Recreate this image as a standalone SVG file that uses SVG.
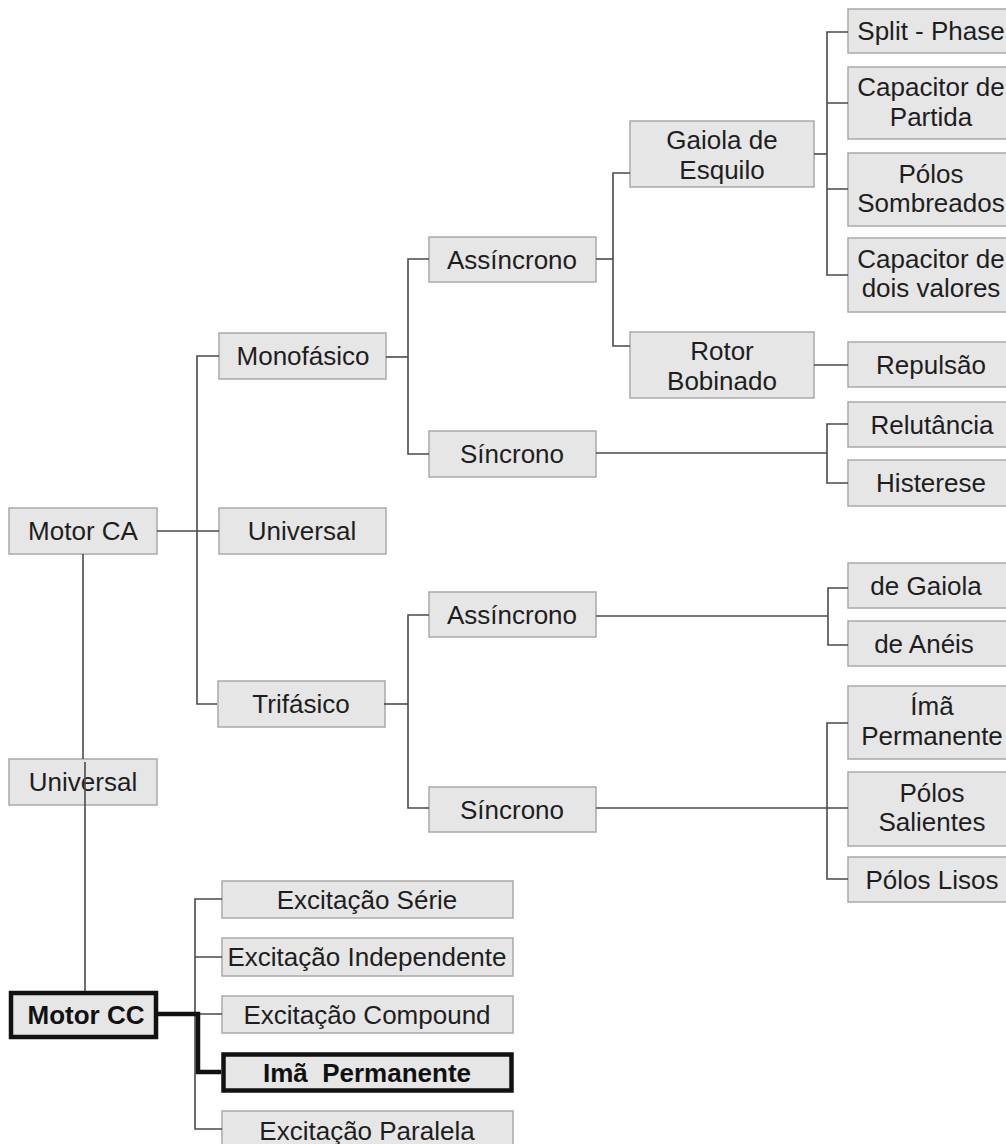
<svg xmlns="http://www.w3.org/2000/svg" width="1006" height="1144" viewBox="0 0 1006 1144">
<style>
.b{fill:#e6e6e6;stroke:#a9a9a9;stroke-width:1.5}
.bt{fill:#e6e6e6;stroke:#111;stroke-width:4.5}
.t{font-family:"Liberation Sans",Arial,sans-serif;font-size:26px;fill:#1e1e1e;text-anchor:middle}
.tb{font-weight:bold;fill:#111}
.c{fill:none;stroke:#4a4a4a;stroke-width:1.6}
.ct{fill:none;stroke:#111;stroke-width:4.5}
</style>
<rect width="1006" height="1144" fill="#fff"/>
<g id="motor-ca"><rect class="b" x="9" y="508" width="148" height="46"/><text class="t" x="83" y="540">Motor CA</text></g>
<g id="universal-left"><rect class="b" x="9" y="759" width="148" height="46"/><text class="t" x="83" y="791">Universal</text></g>
<g id="motor-cc"><rect class="bt" x="11" y="993" width="145" height="44"/><text class="t tb" x="86" y="1024">Motor CC</text></g>
<g id="monofasico"><rect class="b" x="219" y="333" width="167" height="46"/><text class="t" x="303" y="365">Monofásico</text></g>
<g id="universal"><rect class="b" x="219" y="508" width="167" height="46"/><text class="t" x="302" y="540">Universal</text></g>
<g id="trifasico"><rect class="b" x="218" y="681" width="167" height="46"/><text class="t" x="301" y="713">Trifásico</text></g>
<g id="assincrono-mono"><rect class="b" x="429" y="237" width="167" height="45"/><text class="t" x="512" y="269">Assíncrono</text></g>
<g id="sincrono-mono"><rect class="b" x="429" y="431" width="167" height="46"/><text class="t" x="512" y="463">Síncrono</text></g>
<g id="assincrono-tri"><rect class="b" x="429" y="592" width="167" height="45"/><text class="t" x="512" y="624">Assíncrono</text></g>
<g id="sincrono-tri"><rect class="b" x="429" y="787" width="167" height="45"/><text class="t" x="512" y="819">Síncrono</text></g>
<g id="gaiola-esquilo"><rect class="b" x="630" y="121" width="184" height="66"/><text class="t" x="722" y="149">Gaiola de</text><text class="t" x="722" y="179">Esquilo</text></g>
<g id="rotor-bobinado"><rect class="b" x="630" y="332" width="184" height="66"/><text class="t" x="722" y="360">Rotor</text><text class="t" x="722" y="390">Bobinado</text></g>
<g id="split-phase"><rect class="b" x="848" y="9" width="168" height="44"/><text class="t" x="931" y="40">Split - Phase</text></g>
<g id="capacitor-partida"><rect class="b" x="848" y="67" width="168" height="72"/><text class="t" x="931" y="96">Capacitor de</text><text class="t" x="931" y="126">Partida</text></g>
<g id="polos-sombreados"><rect class="b" x="848" y="153" width="168" height="73"/><text class="t" x="931" y="183">Pólos</text><text class="t" x="931" y="212">Sombreados</text></g>
<g id="capacitor-dois"><rect class="b" x="848" y="238" width="168" height="74"/><text class="t" x="931" y="268">Capacitor de</text><text class="t" x="931" y="297">dois valores</text></g>
<g id="repulsao"><rect class="b" x="848" y="342" width="168" height="45"/><text class="t" x="931" y="374">Repulsão</text></g>
<g id="relutancia"><rect class="b" x="848" y="402" width="168" height="45"/><text class="t" x="932" y="434">Relutância</text></g>
<g id="histerese"><rect class="b" x="848" y="460" width="168" height="46"/><text class="t" x="931" y="492">Histerese</text></g>
<g id="de-gaiola"><rect class="b" x="848" y="563" width="168" height="45"/><text class="t" x="926" y="595">de Gaiola</text></g>
<g id="de-aneis"><rect class="b" x="848" y="621" width="168" height="45"/><text class="t" x="924" y="653">de Anéis</text></g>
<g id="ima-permanente-sinc"><rect class="b" x="848" y="686" width="168" height="73"/><text class="t" x="932" y="715">Ímã</text><text class="t" x="932" y="745">Permanente</text></g>
<g id="polos-salientes"><rect class="b" x="848" y="772" width="168" height="74"/><text class="t" x="932" y="802">Pólos</text><text class="t" x="932" y="831">Salientes</text></g>
<g id="polos-lisos"><rect class="b" x="848" y="857" width="168" height="45"/><text class="t" x="932" y="889">Pólos Lisos</text></g>
<g id="exc-serie"><rect class="b" x="222" y="881" width="291" height="37"/><text class="t" x="367" y="909">Excitação Série</text></g>
<g id="exc-independente"><rect class="b" x="222" y="938" width="291" height="38"/><text class="t" x="367" y="966">Excitação Independente</text></g>
<g id="exc-compound"><rect class="b" x="222" y="996" width="291" height="37"/><text class="t" x="367" y="1024">Excitação Compound</text></g>
<g id="ima-permanente-cc"><rect class="bt" x="223.5" y="1054.5" width="288" height="36"/><text class="t tb" x="367" y="1082" xml:space="preserve">Imã  Permanente</text></g>
<g id="exc-paralela"><rect class="b" x="222" y="1111" width="291" height="40"/><text class="t" x="367" y="1140">Excitação Paralela</text></g>
<g id="connectors">
<path class="c" d="M157,531H219"/>
<path class="c" d="M219,356H197V704H217"/>
<path class="c" d="M386,357H408"/>
<path class="c" d="M429,259H408V454H429"/>
<path class="c" d="M596,259H613"/>
<path class="c" d="M630,173H613V346H630"/>
<path class="c" d="M814,154H827"/>
<path class="c" d="M848,32H827V275H848M827,103H848M827,189H848"/>
<path class="c" d="M814,365H848"/>
<path class="c" d="M596,453H827"/>
<path class="c" d="M848,424H827V483H848"/>
<path class="c" d="M384,704H408"/>
<path class="c" d="M429,615H408V808H429"/>
<path class="c" d="M596,616H828"/>
<path class="c" d="M848,588H828V645H848"/>
<path class="c" d="M596,808H848"/>
<path class="c" d="M848,723H827V879H848"/>
<path class="c" d="M83,554V759"/>
<path class="c" d="M85,762V991"/>
<path class="c" d="M222,899H195V1129H222M195,957H222M195,1014H222"/>
<path class="ct" d="M158,1014H198V1072H221"/>
</g>
</svg>
